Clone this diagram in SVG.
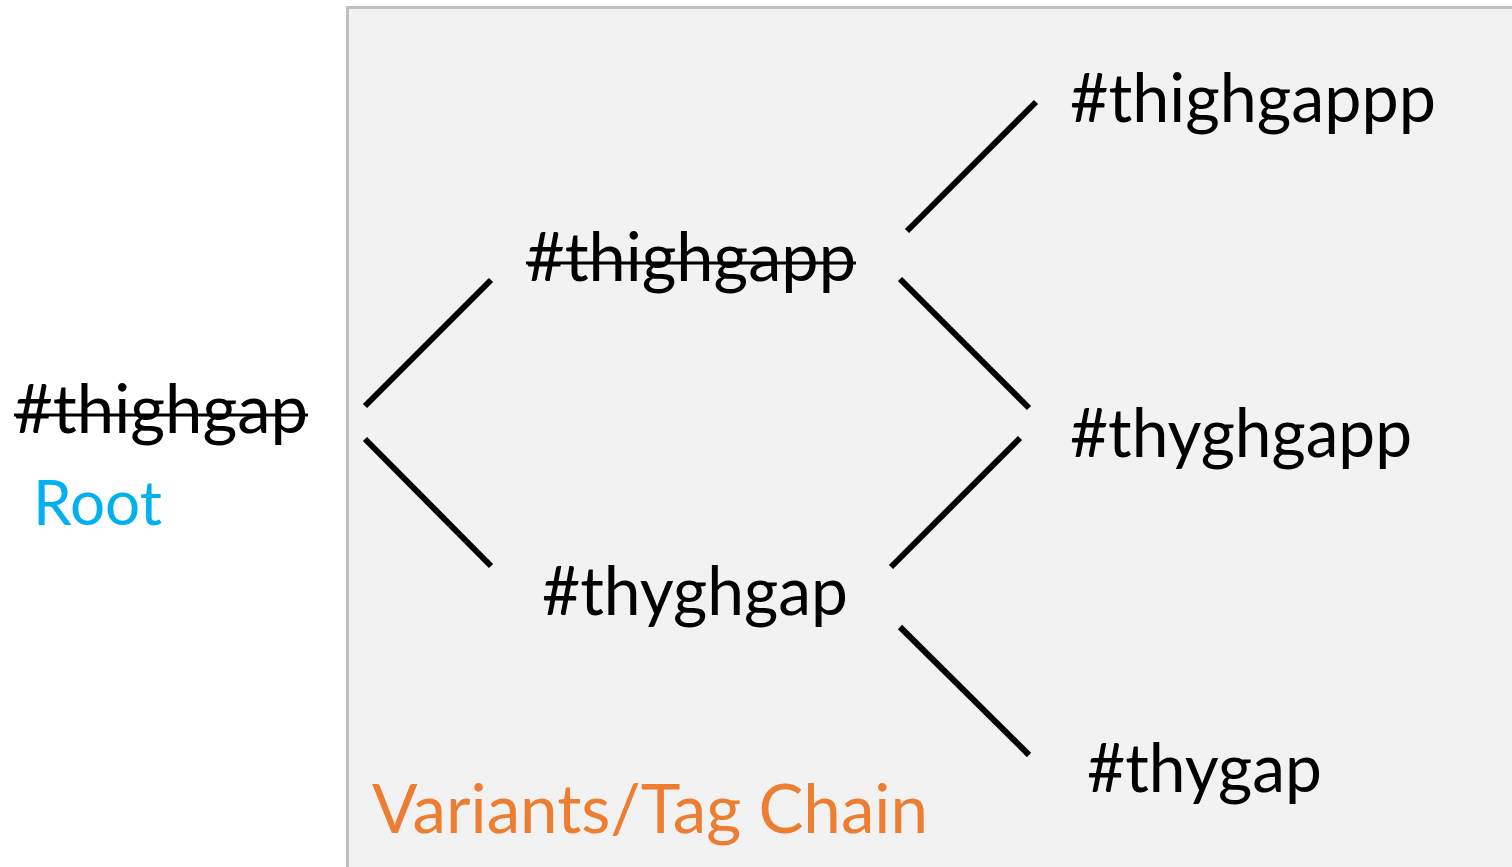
<svg xmlns="http://www.w3.org/2000/svg" width="1512" height="867" viewBox="0 0 1512 867">
<style>
.t{font-family:"Lato","Open Sans","Liberation Sans",sans-serif;font-size:68px;fill:#000}
.strike{stroke:#000;stroke-width:3}
.edge{stroke:#000;stroke-width:6;fill:none}
</style>
<rect x="0" y="0" width="1512" height="867" fill="#ffffff"/>
<rect id="panel" x="347.5" y="7.5" width="1180" height="880" fill="#f2f2f2" stroke="#bfbfbf" stroke-width="3"/>
<g id="connectors">
<line class="edge" x1="365" y1="406" x2="491" y2="280"/>
<line class="edge" x1="365" y1="439" x2="491" y2="566"/>
<line class="edge" x1="907" y1="231" x2="1036" y2="102"/>
<line class="edge" x1="900" y1="279" x2="1029" y2="408"/>
<line class="edge" x1="891" y1="567" x2="1020" y2="438"/>
<line class="edge" x1="900" y1="627" x2="1029" y2="755"/>
</g>
<g id="root">
<text class="t" x="14" y="433" textLength="294" lengthAdjust="spacingAndGlyphs">#thighgap</text>
<line class="strike" x1="14" y1="415" x2="308" y2="415"/>
<text x="33" y="525" font-family="Lato,'Open Sans','Liberation Sans',sans-serif" font-size="62" fill="#00b0f0" textLength="129" lengthAdjust="spacingAndGlyphs">Root</text>
</g>
<g id="n-thighgapp">
<text class="t" x="526" y="281" textLength="330" lengthAdjust="spacingAndGlyphs">#thighgapp</text>
<line class="strike" x1="526" y1="263" x2="856" y2="263"/>
</g>
<g id="n-thyghgap">
<text class="t" x="542" y="615" textLength="306" lengthAdjust="spacingAndGlyphs">#thyghgap</text>
</g>
<g id="n-thighgappp">
<text class="t" x="1070" y="122" textLength="366" lengthAdjust="spacingAndGlyphs">#thighgappp</text>
</g>
<g id="n-thyghgapp">
<text class="t" x="1070" y="457" textLength="342" lengthAdjust="spacingAndGlyphs">#thyghgapp</text>
</g>
<g id="n-thygap">
<text class="t" x="1087" y="792" textLength="235" lengthAdjust="spacingAndGlyphs">#thygap</text>
</g>
<g id="label">
<text x="372" y="833" font-family="Lato,'Open Sans','Liberation Sans',sans-serif" font-size="68" fill="#ed7d31" textLength="556" lengthAdjust="spacingAndGlyphs">Variants/Tag Chain</text>
</g>
</svg>
